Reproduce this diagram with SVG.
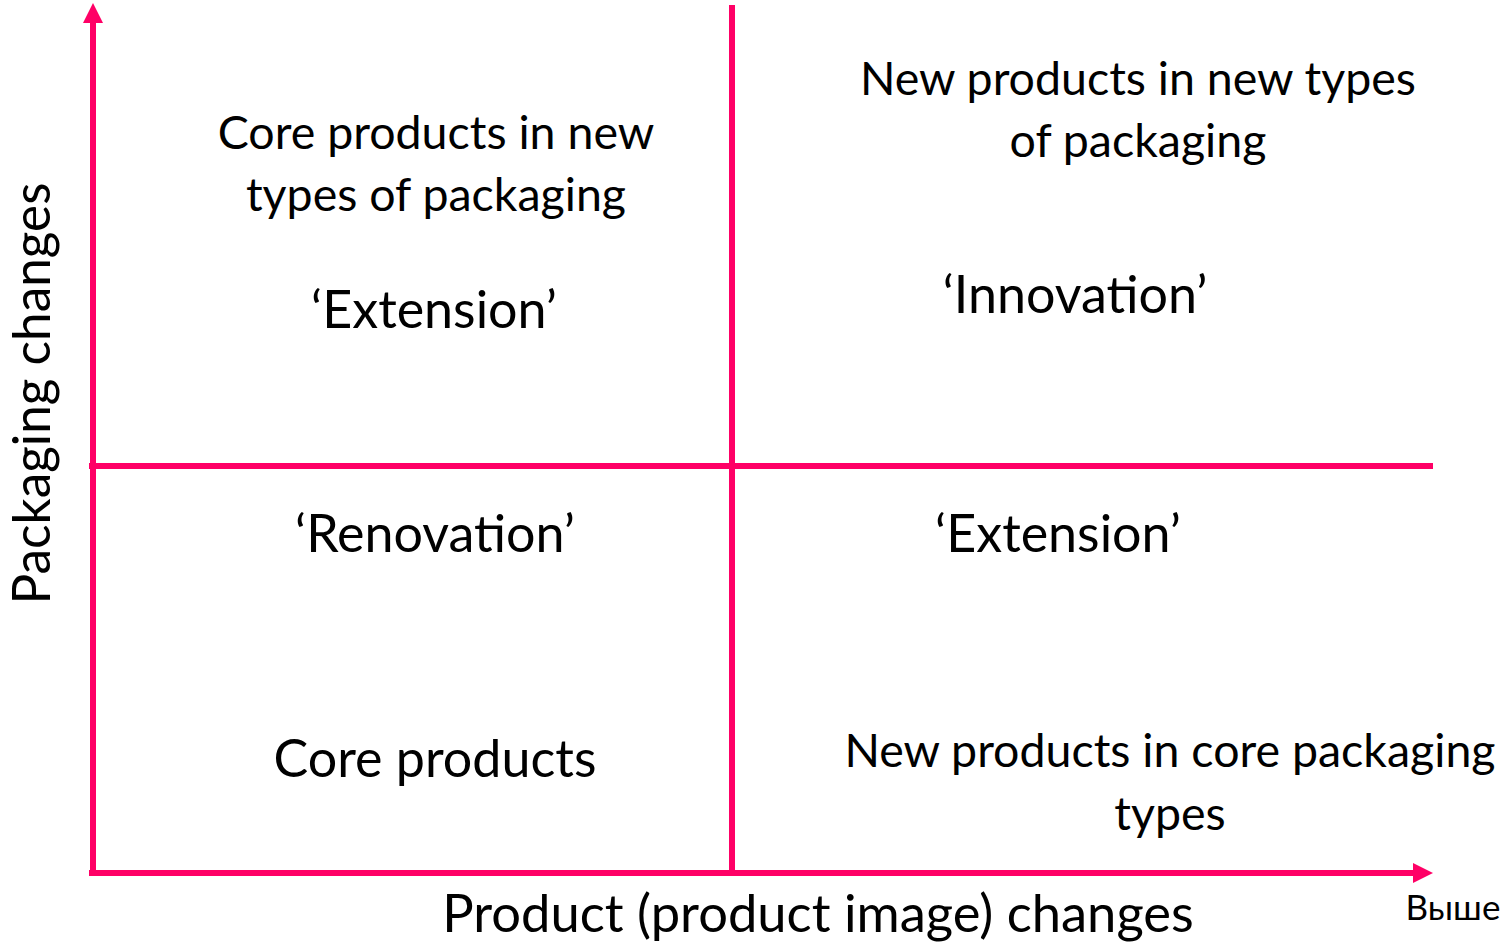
<svg xmlns="http://www.w3.org/2000/svg" width="1508" height="944" viewBox="0 0 1508 944">
  <style>
    .axis { stroke: #FF0066; stroke-width: 6; fill: none; }
    .desc { font-family: Lato, "Open Sans", "Liberation Sans", sans-serif; font-size: 46.5px; fill: #000; text-anchor: middle; }
    .tag { font-family: Lato, "Open Sans", "Liberation Sans", sans-serif; font-size: 52px; fill: #000; text-anchor: middle; }
    .small { font-family: Lato, "Open Sans", "Liberation Sans", sans-serif; font-size: 35px; fill: #000; text-anchor: middle; }
  </style>
  <defs>
    <marker id="arrow" viewBox="0 0 20 20" refX="0" refY="10" markerWidth="20" markerHeight="20" markerUnits="userSpaceOnUse" orient="auto">
      <path d="M0,0 L20,10 L0,20 Z" fill="#FF0066"/>
    </marker>
  </defs>
  <rect width="1508" height="944" fill="#fff"/>

  <!-- axes and quadrant dividers -->
  <g id="connectors">
    <line class="axis" x1="93" y1="876" x2="93" y2="23" marker-end="url(#arrow)"/>
    <line class="axis" x1="89" y1="873" x2="1413" y2="873" marker-end="url(#arrow)"/>
    <line class="axis" x1="89" y1="466" x2="1433" y2="466"/>
    <line class="axis" x1="732" y1="5" x2="732" y2="873"/>
  </g>

  <g id="axis-y-label">
    <text class="tag" style="font-size:51.3px" transform="translate(50,393.5) rotate(-90)">Packaging changes</text>
  </g>
  <g id="axis-x-label">
    <text class="tag" style="font-size:52.5px" x="818" y="932">Product (product image) changes</text>
  </g>
  <g id="axis-x-note">
    <text class="small" x="1453" y="920">Выше</text>
  </g>

  <g id="quadrant-top-left">
    <text class="desc" x="436" y="149">Core products in new</text>
    <text class="desc" x="436" y="211">types of packaging</text>
    <text class="tag" x="434" y="328">‘Extension’</text>
  </g>
  <g id="quadrant-top-right">
    <text class="desc" x="1138" y="95">New products in new types</text>
    <text class="desc" x="1138" y="157">of packaging</text>
    <text class="tag" x="1075" y="313">‘Innovation’</text>
  </g>
  <g id="quadrant-bottom-left">
    <text class="tag" x="435" y="552">‘Renovation’</text>
    <text class="tag" x="435" y="777">Core products</text>
  </g>
  <g id="quadrant-bottom-right">
    <text class="tag" x="1058" y="552">‘Extension’</text>
    <text class="desc" x="1170" y="767">New products in core packaging</text>
    <text class="desc" x="1170" y="830">types</text>
  </g>
</svg>
